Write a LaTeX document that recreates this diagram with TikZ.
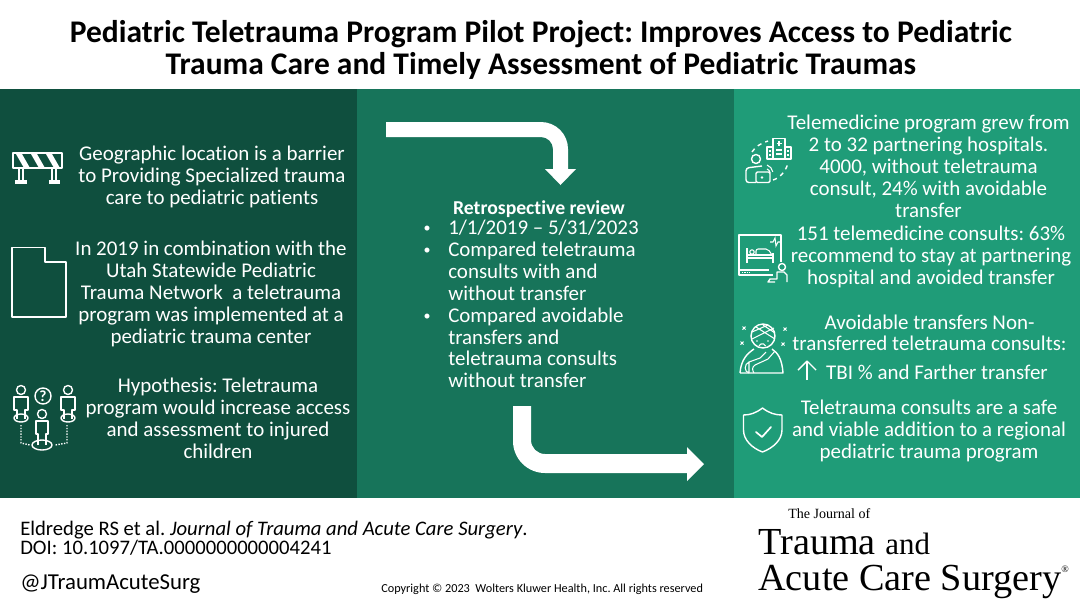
\documentclass[tikz,border=0pt]{standalone}
\usepackage{fontspec}
\setmainfont[Ligatures=NoCommon]{Carlito}
\newfontfamily\logofont{Liberation Serif}
\usepackage{xcolor}
\usetikzlibrary{positioning}
\definecolor{paneldark}{HTML}{0F4F3E}
\definecolor{panelmid}{HTML}{17745A}
\definecolor{panellight}{HTML}{1F9C78}
\frenchspacing
\tikzset{
  bodytext/.style={text=white,align=center,inner sep=0pt,font=\fontsize{14.9}{15.6}\selectfont},
  listtext/.style={bodytext,align=left},
  icon/.style={draw=white,line width=1pt,line join=round},
  thinicon/.style={draw=white,line width=0.75pt},
  plaintext/.style={text=black,inner sep=0pt,anchor=west},
}
\begin{document}
\begin{tikzpicture}[x=0.025cm,y=-0.025cm]
\useasboundingbox (0,0) rectangle (1080,608);
\fill[white] (0,0) rectangle (1080,608);
\fill[paneldark] (0,89) rectangle (357,498);
\fill[panelmid] (357,89) rectangle (734,498);
\fill[panellight] (734,89) rectangle (1080,498);

\node[inner sep=0pt,align=center,font=\fontsize{22.4}{22.7}\selectfont\bfseries] (title) at (541,50) {Pediatric Teletrauma Program Pilot Project: Improves Access to Pediatric\\Trauma Care and Timely Assessment of Pediatric Traumas};

\node[bodytext] (barrier) at (212,177) {Geographic location is a barrier\\to Providing Specialized trauma\\care to pediatric patients};
\node[bodytext] (utah) at (211,294) {In 2019 in combination with the\\Utah Statewide Pediatric\\Trauma Network\ \ a teletrauma\\program was implemented at a\\pediatric trauma center};
\node[bodytext] (hypothesis) at (218,418) {Hypothesis: Teletrauma\\program would increase access\\and assessment to injured\\children};

\fill[white] (386,122) -- (541,122) arc[start angle=-90,end angle=0,radius=27] -- (568,169) -- (576,169) -- (560.5,185) -- (545,169) -- (553,169) -- (553,149) arc[start angle=0,end angle=-90,radius=12] -- (386,137) -- cycle;
\fill[white] (513,406) -- (531,406) -- (531,440) arc[start angle=180,end angle=90,radius=14] -- (687,454) -- (687,447) -- (704,464) -- (687,481) -- (687,473) -- (545,473) arc[start angle=90,end angle=180,radius=32] -- cycle;

\node[bodytext,font=\fontsize{14}{15.6}\selectfont\bfseries] (review) at (539,209) {Retrospective review};
\foreach \y in {229,251,317} \node[bodytext,font=\fontsize{10}{10}\selectfont] at (427,\y) {•};
\node[listtext,anchor=north west] (reviewlist) at (448,219.5) {1/1/2019 – 5/31/2023\\Compared teletrauma\\consults with and\\without transfer\\Compared avoidable\\transfers and\\teletrauma consults\\without transfer};

\node[bodytext] (grew) at (928.5,166) {Telemedicine program grew from\\2 to 32 partnering hospitals.\\4000, without teletrauma\\consult, 24\% with avoidable\\transfer};
\node[bodytext] (consults) at (931,257) {151 telemedicine consults: 63\%\\recommend to stay at partnering\\hospital and avoided transfer};
\node[bodytext,font=\fontsize{14.9}{14.8}\selectfont] (avoidable) at (929.5,333) {Avoidable transfers Non-\\transferred teletrauma consults:};
\node[bodytext] (tbi) at (937,372) {TBI \% and Farther transfer};
\node[bodytext] (safe) at (929,431) {Teletrauma consults are a safe\\and viable addition to a regional\\pediatric trauma program};
\coordinate (tbitail) at (807,380);
\coordinate (tbihead) at (807,361);
\draw[icon] (tbitail) -- (tbihead);
\draw[icon] (798,370) -- (tbihead) -- (816,370);

\draw[icon] (13,153) rectangle (62,168);
\foreach \x in {16,31,46} \fill[white] (\x,154) -- +(6,0) -- +(14,14) -- +(8,14) -- cycle;
\draw[icon] (19,168) -- (19,181) (23,168) -- (23,181) (15,181) -- (27,181) (15,183) -- (27,183);
\draw[icon] (52,168) -- (52,181) (56,168) -- (56,181) (49,181) -- (60,181) (49,183) -- (60,183);

\draw[icon] (12,247.5) -- (45,247.5) -- (45,262) -- (66,262) -- (66,317) -- (12,317) -- cycle;

\draw[icon] (21,390) circle (4.5) (68,390) circle (4.5) (42,414) circle (4.5);
\draw[icon] (43,396) circle (8);
\node[text=white,inner sep=0pt,font=\fontsize{11}{11}\selectfont\bfseries] (question) at (43,396) {?};
\draw[icon] (17,419) -- (17,410) -- (14,410) -- (14,397) -- (28,397) -- (28,410) -- (25,410) -- (25,419);
\draw[icon] (64,419) -- (64,410) -- (61,410) -- (61,397) -- (75,397) -- (75,410) -- (72,410) -- (72,419);
\draw[icon] (38,445) -- (38,434) -- (36,434) -- (36,421) -- (48,421) -- (48,434) -- (46,434) -- (46,445);
\draw[icon] (21,418) ellipse (7 and 4) (68,418) ellipse (7 and 4) (42,445) ellipse (10 and 5);
\draw[icon,densely dotted] (21,425) -- (21,443) -- (30,445) (67,425) -- (67,443) -- (55,445);

\draw[icon] (773,159) -- (773,138.5) -- (785,138.5) -- (785,159) (773,147) -- (767,147) -- (767,159) -- (791,159) -- (791,147) -- (785,147);
\draw[thinicon] (779,141) -- (779,146) (776.5,143.5) -- (781.5,143.5) (769,151) -- (771,151) (769,155) -- (771,155) (787,151) -- (789,151) (787,155) -- (789,155) (776,150) -- (782,150) (776,154) -- (782,154);
\draw[icon] (756,159) circle (4.5);
\draw[icon,rounded corners=2pt] (756,182.5) -- (746,182.5) -- (746,168) -- (762,166);
\draw[icon,rounded corners=1pt] (756,172) rectangle (770,182.5);
\fill[white] (762,177.5) circle (1.4);
\draw[thinicon] (767,169) arc[start angle=-70,end angle=-10,radius=5] (767,165) arc[start angle=-70,end angle=-10,radius=9];
\draw[icon,dashed] (752,152) .. controls (755,147) and (761,143) .. (768,141);
\draw[icon,dashed] (773,180) .. controls (780,178) and (786,171) .. (788,163);

\draw[icon] (769,270) -- (739,270) -- (739,235) -- (781,235) -- (781,262);
\draw[icon] (739,270) -- (739,275) -- (773,275);
\draw[thinicon,densely dotted] (742,272.5) -- (750,272.5);
\draw[icon] (747,263) -- (747,248) (747,258) -- (773,258) (773,263) -- (773,253) (747,255) -- (773,255);
\draw[thinicon] (752,252) circle (2.2);
\draw[thinicon,rounded corners=1.5pt] (756,255) -- (756,249) -- (768,249) -- (772,255);
\draw[thinicon] (770,242) -- (773,242) -- (775,238) -- (776,246) -- (778,242) -- (780,242);
\draw[icon] (782,267) circle (3.5);
\draw[icon] (787,282) -- (787,275) -- (784,272) -- (777,272) -- (777,279) -- (770,279) -- (768,282) -- (775,282);

\draw[icon] (763,336) circle (12);
\draw[thinicon] (752,339) -- (774,328) (752,332) -- (768,325) (756,327) -- (775,339) (763,325) -- (775,333);
\fill[white] (757,341) circle (0.9) (768,341) circle (0.9);
\draw[thinicon] (759,346) arc[start angle=200,end angle=340,radius=3.5];
\draw[icon] (740,373) .. controls (741,359) and (748,353) .. (754,349) (772,349) .. controls (778,353) and (782,359) .. (783,373) -- (740,373);
\draw[thinicon] (749,373) -- (749,362) -- (760,358) -- (766,352) (749,362) .. controls (744,364) and (744,372) .. (749,373) (754,373) .. controls (752,370) and (752,367) .. (755,365) -- (768,359) -- (775,351);
\foreach \x/\y in {744/328,785/329,742/343,783/344} \draw[thinicon] (\x-1.5,\y-1.5) -- (\x+1.5,\y+1.5) (\x-1.5,\y+1.5) -- (\x+1.5,\y-1.5);

\draw[icon] (762.5,408) .. controls (756,413) and (750,415) .. (743.5,415) -- (743.5,430) .. controls (743.5,440) and (752,448) .. (762.5,452) .. controls (773,448) and (782,440) .. (782,430) -- (782,415) .. controls (775,415) and (769,413) .. (762.5,408) -- cycle;
\draw[icon,line width=1.2pt,line cap=round] (756,432) -- (762,437) -- (771,427);

\node[plaintext,align=left,font=\fontsize{14.7}{12.2}\selectfont] (citation) at (20,538.5) {Eldredge RS et al. \textit{Journal of Trauma and Acute Care Surgery}.\\DOI: 10.1097/TA.0000000000004241};
\node[plaintext,font=\fontsize{16.2}{16}\selectfont] (handle) at (20,584) {@JTraumAcuteSurg};
\node[plaintext,font=\fontsize{8.7}{10}\selectfont] (copyright) at (381,589) {Copyright © 2023\ \ Wolters Kluwer Health, Inc. All rights reserved};

\node[plaintext,font=\logofont\fontsize{10}{12}\selectfont] (logojournal) at (788,514) {The Journal of};
\node[plaintext,align=left,font=\logofont\fontsize{27.2}{25.5}\selectfont] (logoname) at (758,564) {Trauma {\fontsize{22}{22}\selectfont and}\\Acute Care Surgery\raisebox{1ex}{\fontsize{7}{7}\selectfont ®}};
\end{tikzpicture}
\end{document}
